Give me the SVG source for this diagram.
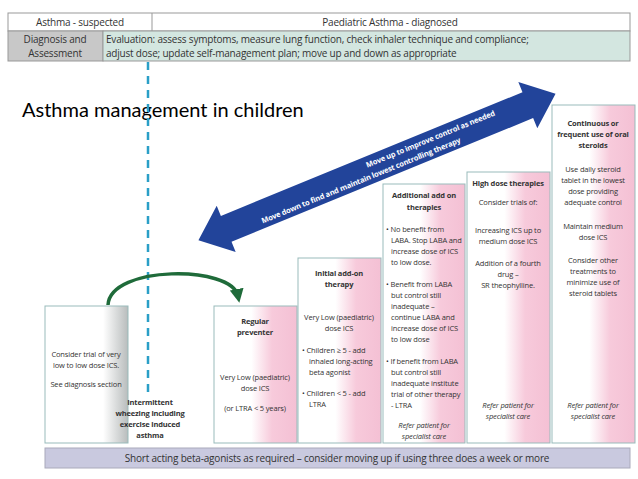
<svg xmlns="http://www.w3.org/2000/svg" width="638" height="479" viewBox="0 0 638 479">
<defs>
<linearGradient id="pink" x1="0" x2="1" y1="0" y2="0"><stop offset="0.45" stop-color="#fff"/><stop offset="0.7" stop-color="#f7cadb"/><stop offset="1" stop-color="#f4c0d4"/></linearGradient>
<linearGradient id="gray" x1="0" x2="1"><stop offset="0.7" stop-color="#fff"/><stop offset="1" stop-color="#b8bcbc"/></linearGradient>
<marker id="gh" markerWidth="4" markerHeight="4" refX="2" refY="2" orient="auto" markerUnits="strokeWidth"><path d="M0,0 L4,2 L0,4 z" fill="#1f6b3a"/></marker>
</defs>
<style>
text{font-family:"Open Sans","Liberation Sans",sans-serif;fill:#333;font-size:7.5px;letter-spacing:-0.15px}
.b{font-weight:bold}
.c{text-anchor:middle}
.i{font-style:italic}
.h{font-size:10px;letter-spacing:-0.2px}
.box{stroke:#9bb;stroke-width:1}
</style>
<rect width="638" height="479" fill="#fff"/>
<g id="header">
<rect x="8" y="13" width="622" height="18" fill="#fff" stroke="#999"/>
<line x1="152" y1="13" x2="152" y2="31" stroke="#999"/>
<rect x="8" y="31" width="95" height="30" fill="#c8c8c8" stroke="#999"/>
<rect x="103" y="31" width="527" height="30" fill="#d3e6e0" stroke="#999"/>
<text x="80" y="26" class="c h">Asthma - suspected</text>
<text x="390" y="26" class="c h">Paediatric  Asthma - diagnosed</text>
<text x="55" y="43" class="c h">Diagnosis and</text>
<text x="55" y="57" class="c h">Assessment</text>
<text x="106" y="43" class="h">Evaluation:  assess symptoms, measure lung function, check inhaler technique and compliance;</text>
<text x="106" y="57" class="h">adjust dose; update self-management plan; move up and down as appropriate</text>
</g>
<text x="22" y="117" style="font-family:Lato,'Liberation Sans',sans-serif;font-size:20px;fill:#000;letter-spacing:0">Asthma management in children</text>
<g id="connectors">
<line x1="148" y1="62" x2="148" y2="392" stroke="#2a9fc7" stroke-width="2.5" stroke-dasharray="8,6"/>
<path d="M108,305 C110,265 232,265 238,296" fill="none" stroke="#1f6b3a" stroke-width="3.5" marker-end="url(#gh)"/>
<g transform="translate(377,167) rotate(-22.3)">
<path d="M-193,0 L-163,-25 L-163,-14 L163,-14 L163,-25 L193,0 L163,25 L163,14 L-163,14 L-163,25 z" fill="#22449a"/>
<text x="60" y="-3" class="c b" style="fill:#fff">Move up to improve control as needed</text>
<text x="-20" y="9" class="c b" style="fill:#fff">Move down to find and maintain lowest controlling therapy</text>
</g>
</g>
<g id="box1">
<rect x="45" y="306" width="83" height="137" fill="url(#gray)" class="box"/>
<text x="86" y="357" class="c">Consider trial of very</text>
<text x="86" y="368" class="c">low to low dose ICS.</text>
<text x="86" y="387" class="c">See diagnosis section</text>
</g>
<g id="intermittent">
<text x="150" y="405" class="c b">Intermittent</text>
<text x="150" y="416" class="c b">wheezing including</text>
<text x="150" y="427" class="c b">exercise induced</text>
<text x="150" y="438" class="c b">asthma</text>
</g>
<g id="box2">
<rect x="214" y="306" width="83" height="137" fill="url(#pink)" class="box"/>
<text x="255" y="324" class="c b">Regular</text>
<text x="255" y="335" class="c b">preventer</text>
<text x="255" y="380" class="c">Very Low (paediatric)</text>
<text x="255" y="391" class="c">dose ICS</text>
<text x="255" y="411" class="c">(or  LTRA &lt; 5 years)</text>
</g>
<g id="box3">
<rect x="298" y="258" width="83" height="185" fill="url(#pink)" class="box"/>
<text x="339" y="276" class="c b">Initial add-on</text>
<text x="339" y="287" class="c b">therapy</text>
<text x="339" y="320" class="c">Very Low (paediatric)</text>
<text x="339" y="331" class="c">dose ICS</text>
<text x="302" y="353">•  Children ≥ 5 - add</text>
<text x="309" y="364">inhaled long-acting</text>
<text x="309" y="375">beta agonist</text>
<text x="302" y="396">•  Children &lt; 5 - add</text>
<text x="309" y="407">LTRA</text>
</g>
<g id="box4">
<rect x="383" y="184" width="82" height="259" fill="url(#pink)" class="box"/>
<text x="424" y="198" class="c b">Additional add on</text>
<text x="424" y="210" class="c b">therapies</text>
<text x="386" y="232">• No benefit from</text>
<text x="391" y="243">LABA. Stop LABA and</text>
<text x="391" y="254">increase dose of ICS</text>
<text x="391" y="265">to low dose.</text>
<text x="386" y="287">• Benefit from LABA</text>
<text x="391" y="298">but control still</text>
<text x="391" y="309">inadequate –</text>
<text x="391" y="320">continue LABA and</text>
<text x="391" y="331">increase dose of ICS</text>
<text x="391" y="342">to low dose</text>
<text x="386" y="364">• If benefit from LABA</text>
<text x="391" y="375">but control still</text>
<text x="391" y="386">inadequate institute</text>
<text x="391" y="397">trial of other therapy</text>
<text x="391" y="408">- LTRA</text>
<text x="424" y="428" class="c i">Refer patient for</text>
<text x="424" y="439" class="c i">specialist care</text>
</g>
<g id="box5">
<rect x="467" y="172" width="83" height="271" fill="url(#pink)" class="box"/>
<text x="508" y="186" class="c b">High dose therapies</text>
<text x="508" y="205" class="c">Consider trials of:</text>
<text x="508" y="233" class="c">Increasing ICS up to</text>
<text x="508" y="244" class="c">medium dose ICS</text>
<text x="508" y="266" class="c">Addition of a fourth</text>
<text x="508" y="277" class="c">drug –</text>
<text x="508" y="288" class="c">SR theophylline.</text>
<text x="508" y="408" class="c i">Refer patient for</text>
<text x="508" y="419" class="c i">specialist care</text>
</g>
<g id="box6">
<rect x="552" y="105" width="83" height="338" fill="url(#pink)" class="box"/>
<text x="593" y="126" class="c b">Continuous or</text>
<text x="593" y="137" class="c b">frequent use of oral</text>
<text x="593" y="148" class="c b">steroids</text>
<text x="593" y="172" class="c">Use daily steroid</text>
<text x="593" y="183" class="c">tablet in the lowest</text>
<text x="593" y="194" class="c">dose providing</text>
<text x="593" y="205" class="c">adequate control</text>
<text x="593" y="229" class="c">Maintain medium</text>
<text x="593" y="240" class="c">dose ICS</text>
<text x="593" y="263" class="c">Consider other</text>
<text x="593" y="274" class="c">treatments to</text>
<text x="593" y="285" class="c">minimize use of</text>
<text x="593" y="296" class="c">steroid tablets</text>
<text x="593" y="408" class="c i">Refer patient for</text>
<text x="593" y="419" class="c i">specialist care</text>
</g>
<g id="bar">
<rect x="45" y="448" width="585" height="20" fill="#c9c9df" stroke="#aab"/>
<text x="337" y="462" class="c h">Short acting beta-agonists as required – consider moving up if using three does a week or more</text>
</g>
</svg>
